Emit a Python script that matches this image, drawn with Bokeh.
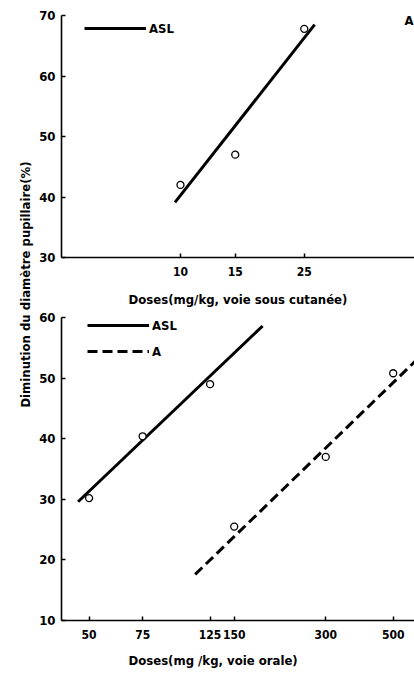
import math
from bokeh.plotting import figure
from bokeh.layouts import row, column
from bokeh.models import (Legend, LegendItem, Label, FixedTicker, Title,
                          NumeralTickFormatter, Range1d)
from bokeh.embed import file_html
from bokeh.resources import INLINE

# ---- data ----
# top panel: subcutaneous doses (mg/kg), ASL
sc_doses = [10, 15, 25]
sc_asl = [42, 47, 67.8]
sc_fit_doses = [9.6, 27]
sc_fit_asl = [39.1, 68.5]
sc_ticks = [10, 15, 25]
sc_yticks = [30, 40, 50, 60, 70]

# bottom panel: oral doses (mg/kg)
or_asl_doses = [50, 75, 125]
or_asl = [30.2, 40.4, 49.0]
or_asl_fit_doses = [46, 186]
or_asl_fit = [29.6, 58.6]

or_a_doses = [150, 300, 500]
or_a = [25.5, 37.0, 50.8]
or_a_fit_doses = [111.6, 620]
or_a_fit = [17.6, 53.8]

or_ticks = [50, 75, 125, 150, 300, 500]
or_yticks = [10, 20, 30, 40, 50, 60]

FONT = "DejaVu Sans Condensed"
TICK_SIZE = "13px"
XTICK_SIZE = "12px"
LABEL_SIZE = "13px"


def style(p, xticks, yticks):
    p.xgrid.visible = False
    p.ygrid.visible = False
    p.outline_line_color = None
    p.background_fill_color = "white"
    p.border_fill_color = "white"
    for ax in (p.xaxis[0], p.yaxis[0]):
        ax.axis_line_color = "black"
        ax.axis_line_width = 1.6
        ax.major_tick_line_color = "black"
        ax.major_tick_line_width = 1.5
        ax.major_tick_in = 4
        ax.major_tick_out = 0
        ax.minor_tick_line_color = None
        ax.major_label_text_font = FONT
        ax.major_label_text_font_style = "bold"
        ax.major_label_text_font_size = TICK_SIZE
        ax.major_label_text_color = "black"
        ax.axis_label_text_font = FONT
        ax.axis_label_text_font_style = "bold"
        ax.axis_label_text_font_size = LABEL_SIZE
        ax.axis_label_text_color = "black"
        ax.formatter = NumeralTickFormatter(format="0")
    p.xaxis[0].ticker = FixedTicker(ticks=xticks)
    p.yaxis[0].ticker = FixedTicker(ticks=yticks)
    p.xaxis[0].major_label_text_font_size = XTICK_SIZE
    p.xaxis[0].major_label_standoff = 9
    p.yaxis[0].major_label_standoff = 6


def legend(items, loc, spacing=0):
    return Legend(items=items, location=loc, border_line_color=None,
                  background_fill_alpha=0, padding=0, margin=0, spacing=spacing,
                  glyph_width=62, glyph_height=20, label_standoff=3,
                  label_text_font=FONT, label_text_font_style="bold",
                  label_text_font_size=TICK_SIZE, label_text_color="black")


# ---- y-label column ----
lab = figure(width=34, height=680, toolbar_location=None, output_backend="svg",
             min_border=0, x_range=(0, 1), y_range=(0, 1))
lab.axis.visible = False
lab.grid.visible = False
lab.outline_line_color = None
lab.add_layout(Label(x=25, y=396, x_units="screen", y_units="screen",
                     text="Diminution du diamètre pupillaire(%)",
                     angle=math.pi / 2, text_align="center", text_baseline="middle",
                     text_font=FONT, text_font_style="bold",
                     text_font_size=LABEL_SIZE, text_color="black"))

# ---- top panel ----
top = figure(width=380, height=310, x_axis_type="log",
             x_range=Range1d(4.144, 56.55), y_range=Range1d(30, 70),
             toolbar_location=None, output_backend="svg",
             min_border_left=27, min_border_right=0,
             min_border_top=15, min_border_bottom=53)
style(top, sc_ticks, sc_yticks)
top.xaxis[0].axis_label = "Doses(mg/kg, voie sous cutanée)"
top.xaxis[0].axis_label_standoff = 13
r_sc = top.line(sc_fit_doses, sc_fit_asl, line_width=3, line_color="black")
top.scatter(sc_doses, sc_asl, marker="circle", size=7, fill_color="white",
            line_color="black", line_width=1.3)
top.add_layout(legend([LegendItem(label="ASL", renderers=[r_sc])], (23, 219)))
top.add_layout(Label(x=343, y=230, x_units="screen", y_units="screen", text="A",
                     text_font=FONT, text_font_style="bold",
                     text_font_size=TICK_SIZE, text_color="black"))

# ---- bottom panel ----
bot = figure(width=380, height=370, x_axis_type="log",
             x_range=Range1d(40.57, 587.5), y_range=Range1d(10, 60),
             toolbar_location=None, output_backend="svg",
             min_border_left=26, min_border_right=0,
             min_border_top=7, min_border_bottom=60)
style(bot, or_ticks, or_yticks)
r_asl = bot.line(or_asl_fit_doses, or_asl_fit, line_width=3, line_color="black")
r_a = bot.line(or_a_fit_doses, or_a_fit, line_width=3, line_color="black",
               line_dash="10 5")
bot.scatter(or_asl_doses, or_asl, marker="circle", size=7, fill_color="white",
            line_color="black", line_width=1.3)
bot.scatter(or_a_doses, or_a, marker="circle", size=7, fill_color="white",
            line_color="black", line_width=1.3)
bot.add_layout(legend([LegendItem(label="ASL", renderers=[r_asl]),
                       LegendItem(label="A", renderers=[r_a])], (26, 259),
                      spacing=6))
bot.add_layout(Title(text="Doses(mg /kg, voie orale)", align="left", offset=67,
                     standoff=18, text_font=FONT, text_font_style="bold",
                     text_font_size=LABEL_SIZE, text_color="black"), "below")

layout = row(lab, column(top, bot))
open("out.html", "w").write(file_html(layout, INLINE))
